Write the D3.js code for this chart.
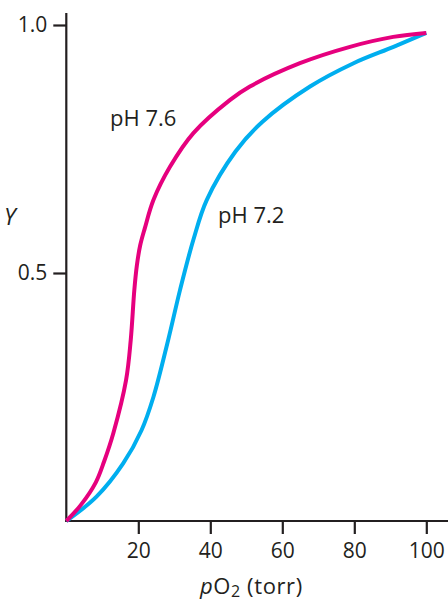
<!DOCTYPE html>
<html>
<head>
<meta charset="utf-8">
<script src="https://cdn.jsdelivr.net/npm/d3@7"></script>
<style>
  html, body { margin: 0; padding: 0; background: #fff; }
  svg { display: block; }
  text { font-family: "Open Sans", "Noto Sans", sans-serif; fill: #231f20; }
</style>
</head>
<body>
<script>
// Data
const pO2_ph76 = [0, 4, 8.2, 10.5, 13.1, 16.6, 17.9, 18.9, 19.6, 20.5, 21.8, 24.2, 28.8, 35.3, 45.5, 51, 64.9, 78.8, 90.8, 100];
const Y_ph76   = [0, 0.032, 0.078, 0.120, 0.178, 0.284, 0.365, 0.466, 0.515, 0.555, 0.59, 0.647, 0.714, 0.782, 0.849, 0.876, 0.923, 0.956, 0.976, 0.984];
const pO2_ph72 = [0, 8.4, 15.8, 20.9, 24.2, 28.3, 31.6, 35.3, 39, 47, 54.5, 67.7, 79.8, 90.9, 100];
const Y_ph72   = [0, 0.049, 0.116, 0.183, 0.25, 0.365, 0.466, 0.567, 0.647, 0.745, 0.805, 0.876, 0.923, 0.956, 0.984];
const xTicks = [20, 40, 60, 80, 100];
const yTicks = [0.5, 1.0];
const yTickLabels = ["0.5", "1.0"];
const seriesNames = ["pH 7.6", "pH 7.2"];

const W = 448, H = 601;
const svg = d3.select("body").append("svg").attr("width", W).attr("height", H);

const x = d3.scaleLinear().domain([0, 100]).range([66.3, 426.3]);
const y = d3.scaleLinear().domain([0, 1]).range([521, 25]);

const axisColor = "#231f20";
const fontFam = '"Open Sans", "Noto Sans", sans-serif';

// Axis lines
svg.append("line").attr("x1", x(0)).attr("x2", x(0)).attr("y1", 13).attr("y2", y(0) + 1)
  .attr("stroke", axisColor).attr("stroke-width", 2.2);
svg.append("line").attr("x1", x(0) - 1).attr("x2", W).attr("y1", y(0)).attr("y2", y(0))
  .attr("stroke", axisColor).attr("stroke-width", 2.2);

// X axis via d3
const xAxis = d3.axisBottom(x).tickValues(xTicks).tickSize(13).tickPadding(9).tickFormat(d3.format("d"));
const gx = svg.append("g").attr("transform", `translate(0,${y(0)})`).call(xAxis);
gx.select(".domain").remove();
gx.selectAll(".tick line").attr("stroke", axisColor).attr("stroke-width", 2.2);
gx.selectAll(".tick text").attr("font-size", 21).attr("fill", axisColor).style("font-family", fontFam);

// Y axis via d3
const yAxis = d3.axisLeft(y).tickValues(yTicks).tickSize(13).tickPadding(6)
  .tickFormat((d, i) => yTickLabels[i]);
const gy = svg.append("g").attr("transform", `translate(${x(0)},0)`).call(yAxis);
gy.select(".domain").remove();
gy.selectAll(".tick line").attr("stroke", axisColor).attr("stroke-width", 2.2);
gy.selectAll(".tick text").attr("font-size", 21).attr("fill", axisColor).style("font-family", fontFam);

// Curves
const line = d3.line().x(d => x(d[0])).y(d => y(d[1])).curve(d3.curveCatmullRom.alpha(0.5));
const d76 = pO2_ph76.map((v, i) => [v, Y_ph76[i]]);
const d72 = pO2_ph72.map((v, i) => [v, Y_ph72[i]]);

svg.append("path").attr("d", line(d72)).attr("fill", "none")
  .attr("stroke", "#00aeef").attr("stroke-width", 4);
svg.append("path").attr("d", line(d76)).attr("fill", "none")
  .attr("stroke", "#e6007e").attr("stroke-width", 4);

// Series labels
svg.append("text").attr("x", 110).attr("y", 126).attr("font-size", 22).text(seriesNames[0]);
svg.append("text").attr("x", 218).attr("y", 223).attr("font-size", 22).text(seriesNames[1]);

// Axis titles
svg.append("text").attr("x", 4).attr("y", 225).attr("font-size", 23).attr("font-style", "italic").text("Y");

const xt = svg.append("text").attr("x", 200).attr("y", 594).attr("font-size", 22).attr("letter-spacing", 0.6);
xt.append("tspan").attr("font-style", "italic").text("p");
xt.append("tspan").text("O");
xt.append("tspan").attr("font-size", 16).attr("dy", 3).text("2");
xt.append("tspan").attr("dy", -3).text(" (torr)");
</script>
</body>
</html>
